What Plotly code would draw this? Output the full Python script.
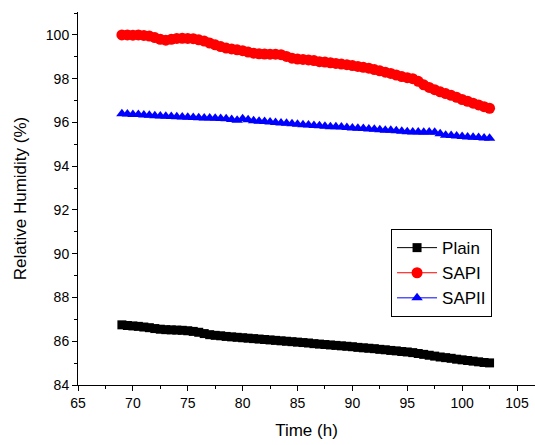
import plotly.graph_objects as go

time_h = [69, 69.5, 70, 70.5, 71, 71.5, 72, 72.5, 73, 73.5, 74, 74.5, 75, 75.5, 76, 76.5,
          77, 77.5, 78, 78.5, 79, 79.5, 80, 80.5, 81, 81.5, 82, 82.5, 83, 83.5, 84, 84.5,
          85, 85.5, 86, 86.5, 87, 87.5, 88, 88.5, 89, 89.5, 90, 90.5, 91, 91.5, 92, 92.5,
          93, 93.5, 94, 94.5, 95, 95.5, 96, 96.5, 97, 97.5, 98, 98.5, 99, 99.5, 100, 100.5,
          101, 101.5, 102, 102.5]

plain = [86.75, 86.72, 86.70, 86.68, 86.65, 86.62, 86.58, 86.55, 86.53, 86.52, 86.51, 86.50,
         86.48, 86.45, 86.41, 86.35, 86.30, 86.27, 86.25, 86.22, 86.20, 86.18, 86.16, 86.14,
         86.12, 86.10, 86.08, 86.06, 86.04, 86.02, 86.00, 85.98, 85.96, 85.94, 85.92, 85.89,
         85.87, 85.85, 85.83, 85.81, 85.79, 85.77, 85.75, 85.72, 85.70, 85.68, 85.66, 85.63,
         85.61, 85.58, 85.56, 85.53, 85.51, 85.48, 85.44, 85.40, 85.36, 85.32, 85.28, 85.25,
         85.22, 85.18, 85.15, 85.12, 85.09, 85.06, 85.03, 85.01]

sapi = [100.00, 100.00, 99.99, 100.00, 99.98, 99.95, 99.88, 99.80, 99.76, 99.80, 99.84, 99.85,
        99.84, 99.83, 99.78, 99.72, 99.63, 99.55, 99.47, 99.40, 99.36, 99.32, 99.28, 99.22,
        99.17, 99.14, 99.13, 99.12, 99.12, 99.10, 99.02, 98.94, 98.90, 98.88, 98.86, 98.83,
        98.78, 98.76, 98.73, 98.70, 98.67, 98.64, 98.60, 98.56, 98.52, 98.48, 98.42, 98.36,
        98.30, 98.24, 98.17, 98.10, 98.05, 98.00, 97.88, 97.72, 97.60, 97.50, 97.40, 97.32,
        97.24, 97.15, 97.05, 96.97, 96.88, 96.80, 96.72, 96.65]

sapii = [96.40, 96.39, 96.37, 96.36, 96.34, 96.33, 96.31, 96.30, 96.28, 96.27, 96.26, 96.25,
         96.24, 96.23, 96.22, 96.21, 96.20, 96.19, 96.18, 96.17, 96.14, 96.10, 96.17, 96.12,
         96.08, 96.06, 96.04, 96.02, 96.00, 95.98, 95.96, 95.94, 95.92, 95.90, 95.88, 95.86,
         95.85, 95.83, 95.81, 95.80, 95.79, 95.77, 95.75, 95.74, 95.72, 95.70, 95.69, 95.67,
         95.65, 95.64, 95.62, 95.60, 95.58, 95.57, 95.56, 95.55, 95.56, 95.55, 95.48, 95.42,
         95.40, 95.38, 95.36, 95.34, 95.32, 95.31, 95.29, 95.28]

series = [
    ("Plain", plain, "black", "square", 9),
    ("SAPI", sapi, "red", "circle", 11),
    ("SAPII", sapii, "blue", "triangle-up", 10),
]

fig = go.Figure()
for name, vals, color, sym, size in series:
    fig.add_trace(go.Scatter(
        x=time_h, y=vals, name=name, mode="lines+markers",
        line=dict(color=color, width=1),
        marker=dict(symbol=sym, size=size, color=color, line=dict(width=0)),
    ))

font = "Liberation Sans, Arial, sans-serif"
fig.update_layout(
    width=535, height=445,
    margin=dict(l=78, r=0, t=12, b=60),
    paper_bgcolor="white", plot_bgcolor="white",
    font=dict(family=font, size=14, color="black"),
    showlegend=True,
    legend=dict(
        x=0.685, y=0.418, xanchor="left", yanchor="top",
        bordercolor="black", borderwidth=1, bgcolor="white",
        font=dict(size=17, family=font, color="black"),
        tracegroupgap=0, itemwidth=40,
    ),
)
fig.update_xaxes(
    range=[65, 106.64], showgrid=False, zeroline=False,
    showline=True, linecolor="black", linewidth=1,
    ticks="outside", ticklen=5, tickcolor="black", tick0=65, dtick=5,
    minor=dict(ticks="outside", ticklen=3, dtick=2.5, tickcolor="black"),
    title=dict(text="Time (h)", font=dict(size=17, family=font), standoff=14),
    tickfont=dict(size=14, family=font),
)
fig.update_yaxes(
    range=[84, 101.05], showgrid=False, zeroline=False,
    showline=True, linecolor="black", linewidth=1,
    ticks="outside", ticklen=5, tickcolor="black", tick0=84, dtick=2,
    minor=dict(ticks="outside", ticklen=3, dtick=1, tickcolor="black"),
    title=dict(text="Relative Humidity (%)", font=dict(size=17, family=font), standoff=14),
    tickfont=dict(size=14, family=font),
)

fig.write_html("out.html")
